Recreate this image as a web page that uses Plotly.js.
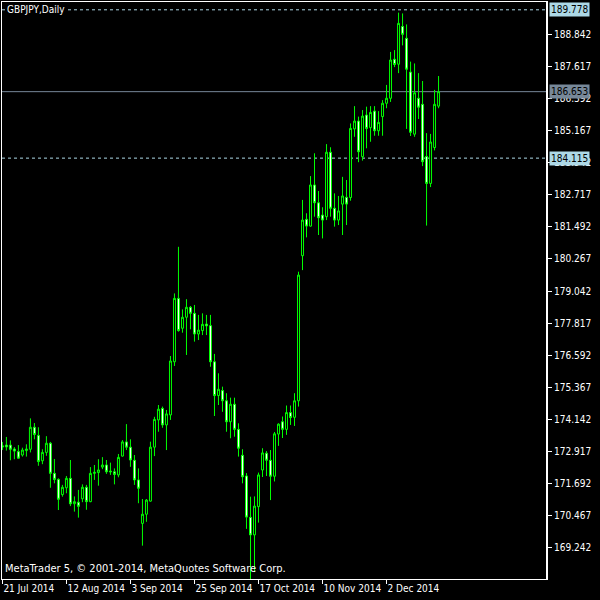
<!DOCTYPE html>
<html>
<head>
<meta charset="utf-8">
<script src="https://cdn.plot.ly/plotly-3.0.1.min.js"></script>
<style>
html,body{margin:0;padding:0;background:#000;}
#chart{width:600px;height:600px;}
</style>
</head>
<body>
<div id="chart"></div>
<script>
// GBPJPY daily, 21 Jul 2014 - 19 Dec 2014 (one entry per trading day)
const openP = [
173.13,173.16,173.16,173.01,172.91,172.78,172.95,173.00,173.84,173.53,
172.56,172.88,173.23,172.08,171.85,171.27,171.53,171.89,170.92,170.98,
171.11,171.55,171.00,172.08,172.11,172.32,172.40,172.17,172.14,172.02,
172.74,173.28,173.08,172.58,171.83,170.17,170.52,171.02,173.08,174.12,
174.56,173.93,174.31,176.34,178.76,177.62,178.04,178.42,178.19,177.40,
177.53,177.78,177.72,176.34,175.05,175.24,174.85,174.05,174.72,173.76,
172.77,171.98,170.40,169.73,170.81,172.21,172.85,172.58,171.97,173.58,
174.05,173.76,174.40,174.22,174.85,180.39,181.78,181.52,183.09,182.41,
181.94,181.88,184.34,182.20,181.75,182.36,182.62,182.61,185.23,185.53,
184.17,185.76,185.28,185.91,185.16,185.70,186.21,186.40,187.89,187.70,
189.14,188.69,187.40,185.03,186.40,186.17,184.18,183.15,184.52,186.10
];
const highP = [
173.28,173.47,173.34,173.08,173.16,173.06,173.19,174.18,174.00,173.84,
173.00,173.50,173.28,172.63,171.89,171.64,171.98,172.59,171.20,171.45,
171.66,171.64,172.32,172.40,172.62,172.70,172.59,172.49,172.27,172.82,
173.35,173.96,173.38,172.78,172.27,171.10,171.10,173.29,174.24,174.69,
174.63,174.50,176.56,178.95,180.73,178.34,178.73,178.47,178.51,178.13,
178.19,178.13,178.13,176.64,175.90,175.39,175.14,174.97,174.97,173.99,
173.00,172.09,171.19,171.20,172.11,173.04,172.93,172.97,173.66,173.99,
174.25,174.67,174.67,175.14,179.78,182.52,182.01,183.43,184.30,182.86,
182.24,184.65,184.53,182.77,182.67,183.40,183.28,185.44,186.10,185.70,
185.95,186.08,186.10,186.10,185.91,186.33,186.91,188.17,188.24,189.67,
189.64,189.22,187.80,187.73,187.36,187.06,185.07,185.04,186.72,187.25
];
const lowP = [
172.97,172.95,172.58,172.62,172.64,172.72,172.72,172.88,173.38,172.37,
172.43,172.75,171.53,171.70,170.68,171.19,171.32,170.83,170.62,170.39,
170.98,170.69,170.98,171.83,171.61,172.24,172.06,172.02,171.66,171.93,
172.72,172.97,172.33,171.64,170.94,169.32,170.23,171.00,172.74,173.67,
173.82,172.97,174.12,176.18,177.49,177.45,176.60,177.58,177.11,177.17,
177.36,177.36,176.15,174.27,174.69,174.43,173.67,173.42,173.48,172.72,
171.70,169.96,168.01,168.31,170.20,171.94,171.98,171.06,171.77,173.13,
173.43,173.55,173.93,173.89,174.63,179.84,181.09,181.50,181.88,181.18,
181.05,181.75,181.88,181.50,181.56,181.18,181.56,182.49,184.93,183.96,
184.02,184.49,184.74,184.97,184.97,184.97,186.02,186.26,187.59,187.36,
188.42,185.23,184.96,184.93,185.61,183.81,181.54,183.01,184.41,186.02
];
const closeP = [
173.09,173.09,173.00,172.93,172.66,172.97,173.01,173.84,173.56,172.53,
172.88,173.23,172.08,171.85,171.09,171.55,171.89,170.92,171.00,170.82,
171.55,171.00,172.08,172.12,172.21,172.40,172.14,172.14,172.04,172.69,
173.28,173.08,172.59,171.83,171.51,170.52,171.06,173.08,174.14,174.53,
173.93,174.35,176.37,178.76,177.53,178.04,178.42,178.19,177.40,177.55,
177.77,177.71,176.34,175.05,175.29,174.85,174.05,174.72,173.76,173.04,
171.95,170.41,169.73,170.83,172.02,172.86,172.58,171.97,173.59,173.96,
173.76,174.40,174.21,174.85,179.65,181.75,181.52,183.09,182.41,181.84,
181.75,184.34,182.20,181.75,182.10,182.67,182.36,185.25,185.53,184.36,
185.72,185.25,185.86,185.16,185.48,186.21,186.40,187.86,187.69,189.26,
188.84,187.51,185.10,186.61,186.06,183.98,183.15,184.73,186.17,186.653
];
const tickIndex = [0, 16, 32, 48, 64, 80, 96];
const tickLabels = ['21 Jul 2014','12 Aug 2014','3 Sep 2014','25 Sep 2014','17 Oct 2014','10 Nov 2014','2 Dec 2014'];
const priceTicks = [169.242,170.467,171.692,172.917,174.142,175.367,176.592,177.817,179.042,180.267,181.492,182.717,183.942,185.167,186.392,187.617,188.842];
const priceTickText = priceTicks.map(v => v.toFixed(3));
const levelHigh = 189.778;
const levelBid = 186.653;
const levelLow = 184.115;
const symbolTitle = 'GBPJPY,Daily';
const footerText = 'MetaTrader 5, © 2001-2014, MetaQuotes Software Corp.';

const barIndex = openP.map((_, i) => i);
const FONT = '"Liberation Sans Narrow", "DejaVu Sans Condensed", "Liberation Sans", sans-serif';
const GREEN = '#00ff00';

const trace = {
  type: 'candlestick',
  x: barIndex,
  open: openP, high: highP, low: lowP, close: closeP,
  increasing: {line: {color: GREEN, width: 1}, fillcolor: '#000000'},
  decreasing: {line: {color: GREEN, width: 1}, fillcolor: '#ffffff'},
  whiskerwidth: 0,
  hoverinfo: 'skip',
  showlegend: false
};

function hline(y, color, dash) {
  return {type: 'line', xref: 'paper', x0: 0, x1: 1, yref: 'y', y0: y, y1: y,
          line: {color: color, width: 1, dash: dash}, layer: 'below'};
}
function priceTag(y, bg) {
  return {xref: 'paper', x: 1, xanchor: 'left', xshift: 2, yref: 'y', y: y, yanchor: 'middle',
          text: y.toFixed(3), showarrow: false, bgcolor: bg, borderpad: 1,
          font: {family: FONT, size: 10, color: '#000000'}};
}

const layout = {
  width: 600, height: 600,
  margin: {l: 2, r: 53, t: 2, b: 21},
  paper_bgcolor: '#000000', plot_bgcolor: '#000000',
  font: {family: FONT, size: 10, color: '#ffffff'},
  showlegend: false,
  xaxis: {
    type: 'linear', range: [-0.1, 136.1], rangeslider: {visible: false},
    tickmode: 'array', tickvals: tickIndex, ticktext: tickLabels, tickangle: 0,
    ticks: 'outside', ticklen: 4, tickcolor: '#ffffff', ticklabelposition: 'outside right',
    tickfont: {family: FONT, size: 10, color: '#ffffff'},
    showgrid: false, zeroline: false,
    showline: true, linecolor: '#ffffff', linewidth: 1, mirror: true,
    fixedrange: true
  },
  yaxis: {
    side: 'right', range: [168.047, 190.076],
    tickmode: 'array', tickvals: priceTicks, ticktext: priceTickText,
    ticks: 'outside', ticklen: 4, tickcolor: '#ffffff',
    tickfont: {family: FONT, size: 10, color: '#ffffff'},
    showgrid: false, zeroline: false,
    showline: true, linecolor: '#ffffff', linewidth: 1, mirror: true,
    fixedrange: true
  },
  shapes: [
    hline(levelHigh, '#add8e6', '3px,3px'),
    hline(levelBid, '#778899', 'solid'),
    hline(levelLow, '#add8e6', '3px,3px'),
    {type: 'line', xref: 'paper', x0: 1, x1: 1, yref: 'paper', y0: 0, y1: 1,
     line: {color: '#ffffff', width: 2}}
  ],
  annotations: [
    {xref: 'paper', x: 0, xanchor: 'left', xshift: 3, yref: 'paper', y: 1, yanchor: 'top', yshift: 0,
     text: symbolTitle, showarrow: false, bgcolor: '#000000', borderpad: 1,
     font: {family: FONT, size: 10, color: '#ffffff'}},
    {xref: 'paper', x: 0, xanchor: 'left', xshift: 1, yref: 'paper', y: 0, yanchor: 'bottom', yshift: 2,
     text: footerText, showarrow: false,
     font: {family: FONT, size: 11, color: '#ffffff'}},
    priceTag(levelHigh, '#add8e6'),
    priceTag(levelBid, '#778899'),
    priceTag(levelLow, '#add8e6')
  ]
};

Plotly.newPlot('chart', [trace], layout, {displayModeBar: false, staticPlot: true});
</script>
</body>
</html>
